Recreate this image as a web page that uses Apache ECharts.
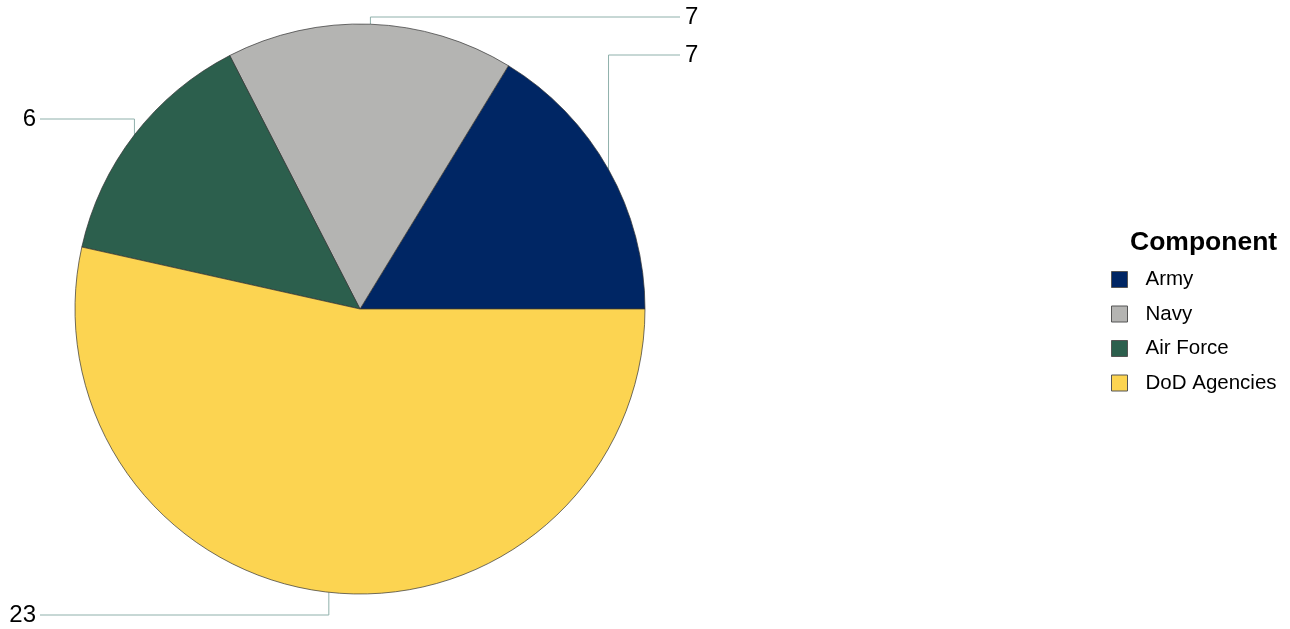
<!DOCTYPE html>
<html>
<head>
<meta charset="utf-8">
<script src="https://cdn.jsdelivr.net/npm/echarts@6/dist/echarts.min.js"></script>
<style>
  html, body { margin: 0; padding: 0; background: #fff; }
  #chart { width: 1290px; height: 629px; }
</style>
</head>
<body>
<div id="chart"></div>
<script>
// data
var components = ['Army', 'Navy', 'Air Force', 'DoD Agencies'];
var counts = [7, 7, 6, 23];
var colors = ['#002664', '#b4b4b2', '#2c5f4d', '#fcd451'];

// where each outside label sits (layout only)
var labelSpots = [
  { x: 685, y: 55, align: 'left' },
  { x: 685, y: 17, align: 'left' },
  { x: 36, y: 119, align: 'right' },
  { x: 36, y: 615, align: 'right' }
];

var chart = echarts.init(document.getElementById('chart'));

chart.setOption({
  animation: false,
  title: {
    text: 'Component',
    left: 1125,
    top: 224,
    textStyle: { fontFamily: 'Liberation Sans', fontSize: 26.5, fontWeight: 'bold', color: '#000' }
  },
  legend: {
    orient: 'vertical',
    left: 1111,
    top: 269,
    padding: 0,
    icon: 'rect',
    itemWidth: 16,
    itemHeight: 16,
    itemGap: 13.5,
    selectedMode: false,
    data: components,
    itemStyle: { borderColor: '#555', borderWidth: 1 },
    textStyle: { fontFamily: 'Liberation Sans', fontSize: 20.5, color: '#000', padding: [0, 0, 0, 13] }
  },
  series: [{
    type: 'pie',
    center: [360, 309],
    radius: 285,
    startAngle: 0,
    clockwise: false,
    data: components.map(function (name, i) {
      return { name: name, value: counts[i], itemStyle: { color: colors[i] } };
    }),
    itemStyle: { borderColor: '#333', borderWidth: 0.7 },
    label: {
      show: true,
      position: 'outside',
      formatter: '{c}',
      fontFamily: 'Liberation Sans',
      fontSize: 24,
      color: '#000'
    },
    labelLine: {
      show: true,
      lineStyle: { color: '#8fb0ab', width: 1 }
    },
    labelLayout: function (params) {
      var s = labelSpots[params.dataIndex];
      var p0 = params.labelLinePoints ? params.labelLinePoints[0] : [0, 0];
      var endX = s.align === 'left' ? s.x - 5 : s.x + 4;
      return {
        x: s.x,
        y: s.y,
        align: s.align,
        verticalAlign: 'middle',
        labelLinePoints: [[p0[0], p0[1]], [p0[0], s.y], [endX, s.y]]
      };
    }
  }]
});
</script>
</body>
</html>
